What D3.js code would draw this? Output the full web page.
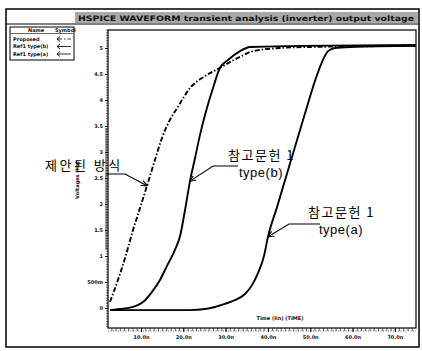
<!DOCTYPE html>
<html>
<head>
<meta charset="utf-8">
<script src="https://cdn.jsdelivr.net/npm/d3@7"></script>
<style>
  body { margin: 0; background: #fff; }
  svg { display: block; }
  .tiny { font-family: "DejaVu Sans", sans-serif; font-size: 5px; font-weight: bold; fill: #111; }
  .note { font-family: "Noto Sans CJK KR", sans-serif; font-size: 13px; fill: #000; }
  .note2 { font-family: "Liberation Sans", sans-serif; font-size: 13px; fill: #000; }
</style>
</head>
<body>
<div class="svg-chart"></div>
<script>
// time in ns, voltage in V
const proposedT = [2.67, 4.56, 6.45, 8.11, 9.76, 11.42, 13.31, 14.96, 16.85, 18.74, 21.58, 25.13, 28.67, 33.4, 36.47, 42.85, 49.9, 75];
const proposedV = [0.12, 0.54, 1.02, 1.5, 1.92, 2.35, 2.85, 3.27, 3.62, 3.87, 4.23, 4.46, 4.62, 4.83, 4.94, 5.0, 5.02, 5.04];

const typeBT = [2.67, 5.04, 8.11, 10.95, 12.6, 14.49, 16.15, 18.04, 19.22, 20.4, 21.58, 22.76, 23.95, 25.6, 27.02, 28.67, 30.56, 33.4, 35.76, 47.58, 75];
const typeBV = [-0.04, -0.02, 0.02, 0.15, 0.31, 0.54, 0.81, 1.12, 1.38, 1.88, 2.44, 2.88, 3.33, 3.85, 4.23, 4.62, 4.77, 4.94, 5.02, 5.04, 5.06];

const typeAT = [2.67, 12.13, 21.58, 25.13, 27.49, 29.85, 32.22, 34.58, 36.24, 37.65, 39.07, 40.02, 42.15, 44.27, 46.4, 47.58, 49.24, 51.13, 52.78, 54.2, 55.85, 59.4, 75];
const typeAV = [-0.04, -0.04, -0.04, -0.02, 0.02, 0.08, 0.15, 0.27, 0.44, 0.67, 1.0, 1.37, 1.94, 2.52, 3.1, 3.42, 3.87, 4.37, 4.73, 4.94, 5.0, 5.02, 5.04];

const yTickValues = [0, 0.5, 1, 1.5, 2, 2.5, 3, 3.5, 4, 4.5, 5];
const yTickLabels = ["0", "500m", "1", "1.5", "2", "2.5", "3", "3.5", "4", "4.5", "5"];
const xTickValues = [10, 20, 30, 40, 50, 60, 70];
const xTickLabels = ["10.0n", "20.0n", "30.0n", "40.0n", "50.0n", "60.0n", "70.0n"];

const legendNames = ["Proposed", "Ref1 type(b)", "Ref1 type(a)"];
const titleText = "HSPICE WAVEFORM  transient analysis  (inverter)  output voltage";

const width = 422, height = 351;

const svg = d3.select('.svg-chart').append('svg')
    .attr('width', width)
    .attr('height', height)
    .attr('viewBox', '0 0 ' + width + ' ' + height);

// outer frame + title strip
svg.append('rect')
    .attr('x', 6).attr('y', 9).attr('width', 413).attr('height', 338)
    .attr('fill', 'none').attr('stroke', '#000').attr('stroke-width', 1.5);
svg.append('rect')
    .attr('x', 75).attr('y', 12).attr('width', 343).attr('height', 11)
    .attr('fill', '#a8a8a8');
svg.append('text')
    .attr('class', 'tiny')
    .attr('x', 78).attr('y', 20.5)
    .attr('textLength', 336)
    .attr('lengthAdjust', 'spacingAndGlyphs')
    .style('font-size', '7.5px')
    .text(titleText);
svg.append('line')
    .attr('x1', 6).attr('x2', 419).attr('y1', 24).attr('y2', 24)
    .attr('stroke', '#000').attr('stroke-width', 1);

let x = d3.scaleLinear()
    .domain([2.2, 75])
    .range([108, 416]);

let y = d3.scaleLinear()
    .domain([0, 5])
    .range([308, 48]);

// plot box
svg.append('rect')
    .attr('x', 108).attr('y', 30).attr('width', 308).attr('height', 298)
    .attr('fill', 'none').attr('stroke', '#000').attr('stroke-width', 1.2);
svg.append('line')
    .attr('x1', 106).attr('x2', 106).attr('y1', 128).attr('y2', 250)
    .attr('stroke', '#000').attr('stroke-width', 0.8);
svg.append('line')
    .attr('x1', 108).attr('x2', 416).attr('y1', 331).attr('y2', 331)
    .attr('stroke', '#000').attr('stroke-width', 0.6).attr('stroke-dasharray', '1,1.5');

// y axis: minor dotted ticks + labelled majors
svg.append('g')
    .attr('transform', 'translate(108,0)')
    .call(d3.axisLeft(y).tickValues(d3.range(-0.35, 5.4, 0.05)).tickSize(2).tickFormat(''))
    .call(g => g.select('.domain').remove())
    .call(g => g.selectAll('line').attr('stroke-width', 0.6));

svg.append('g')
    .attr('transform', 'translate(108,0)')
    .call(d3.axisLeft(y).tickValues(yTickValues).tickSize(3).tickPadding(2)
        .tickFormat((d, i) => yTickLabels[i]))
    .call(g => g.select('.domain').remove())
    .call(g => g.selectAll('text').attr('class', 'tiny').attr('font-size', null).attr('font-family', null));

// x axis
svg.append('g')
    .attr('transform', 'translate(0,328)')
    .call(d3.axisBottom(x).tickValues(d3.range(3, 75, 1)).tickSize(3).tickFormat(''))
    .call(g => g.select('.domain').remove())
    .call(g => g.selectAll('line').attr('stroke-width', 0.6));

svg.append('g')
    .attr('transform', 'translate(0,328)')
    .call(d3.axisBottom(x).tickValues(xTickValues).tickSize(4).tickPadding(3)
        .tickFormat((d, i) => xTickLabels[i]))
    .call(g => g.select('.domain').remove())
    .call(g => g.selectAll('text').attr('class', 'tiny').attr('font-size', null).attr('font-family', null));

svg.append('text')
    .attr('class', 'tiny')
    .attr('x', 280).attr('y', 320)
    .attr('text-anchor', 'middle')
    .text('Time (lin) (TIME)');

svg.append('text')
    .attr('class', 'tiny')
    .attr('transform', 'translate(79,180) rotate(-90)')
    .attr('text-anchor', 'middle')
    .text('Voltages (lin)');

// waveforms
let line = d3.line()
    .x(d => x(d[0]))
    .y(d => y(d[1]))
    .curve(d3.curveMonotoneX);

const series = [
    { t: proposedT, v: proposedV, dash: '5,2,1.5,2' },
    { t: typeBT, v: typeBV, dash: null },
    { t: typeAT, v: typeAV, dash: null }
];

series.forEach(s => {
    svg.append('path')
        .datum(s.t.map((t, i) => [t, s.v[i]]))
        .attr('fill', 'none')
        .attr('stroke', '#000')
        .attr('stroke-width', 1.9)
        .attr('stroke-linejoin', 'round')
        .attr('stroke-dasharray', s.dash)
        .attr('d', line);
});

// arrow head for the callouts
svg.append('defs').append('marker')
    .attr('id', 'arr')
    .attr('viewBox', '0 0 10 10')
    .attr('refX', 9).attr('refY', 5)
    .attr('markerWidth', 6).attr('markerHeight', 6)
    .attr('orient', 'auto-start-reverse')
    .append('path')
    .attr('d', 'M0,1 L10,5 L0,9')
    .attr('fill', 'none').attr('stroke', '#000').attr('stroke-width', 1.6);

// callouts: [series, point index], elbow and shelf end
const callouts = [
    { s: 0, p: 5, elbow: [125, 174], end: [106, 174], lines: ['제안된 방식'], tx: 45, ty: 170, ls: '2.5px' },
    { s: 1, p: 10, elbow: [213, 166], end: [238, 166], lines: ['참고문헌 1', 'type(b)'], tx: 228, ty: 160, ls: '1.5px' },
    { s: 2, p: 11, elbow: [289, 224], end: [320, 224], lines: ['참고문헌 1', 'type(a)'], tx: 308, ty: 217, ls: '1.5px' }
];

callouts.forEach(c => {
    const sr = series[c.s];
    const px = x(sr.t[c.p]), py = y(sr.v[c.p]);
    svg.append('path')
        .attr('d', 'M' + c.end + 'L' + c.elbow + 'L' + px + ',' + py)
        .attr('fill', 'none')
        .attr('stroke', '#000')
        .attr('stroke-width', 1.1)
        .attr('marker-end', 'url(#arr)');
    c.lines.forEach((txt, i) => {
        svg.append('text')
            .attr('class', i == 0 ? 'note' : 'note2')
            .attr('x', i == 0 ? c.tx : c.tx + 11)
            .attr('y', c.ty + i * 16.5)
            .style('letter-spacing', i == 0 ? c.ls : '0.5px')
            .text(txt);
    });
});

// legend box
const lg = svg.append('g');
lg.append('rect')
    .attr('x', 10).attr('y', 27).attr('width', 64).attr('height', 33)
    .attr('fill', '#fff').attr('stroke', '#000').attr('stroke-width', 1);
lg.append('text').attr('class', 'tiny').attr('x', 28).attr('y', 32).text('Name');
lg.append('text').attr('class', 'tiny').attr('x', 55).attr('y', 32).text('Symbol');
lg.append('line')
    .attr('x1', 11).attr('x2', 73).attr('y1', 33.5).attr('y2', 33.5)
    .attr('stroke', '#000').attr('stroke-width', 0.6);

legendNames.forEach((name, i) => {
    const yy = 39 + i * 7.5;
    lg.append('text').attr('class', 'tiny').attr('x', 13).attr('y', yy + 1.5).text(name);
    lg.append('line')
        .attr('x1', 57).attr('x2', 71).attr('y1', yy).attr('y2', yy)
        .attr('stroke', '#000').attr('stroke-width', 0.8)
        .attr('stroke-dasharray', series[i].dash);
    lg.append('path')
        .attr('d', 'M' + 60 + ',' + (yy - 2.5) + 'L' + 57 + ',' + yy + 'L' + 60 + ',' + (yy + 2.5))
        .attr('fill', 'none').attr('stroke', '#000').attr('stroke-width', 0.9);
});
</script>
</body>
</html>
